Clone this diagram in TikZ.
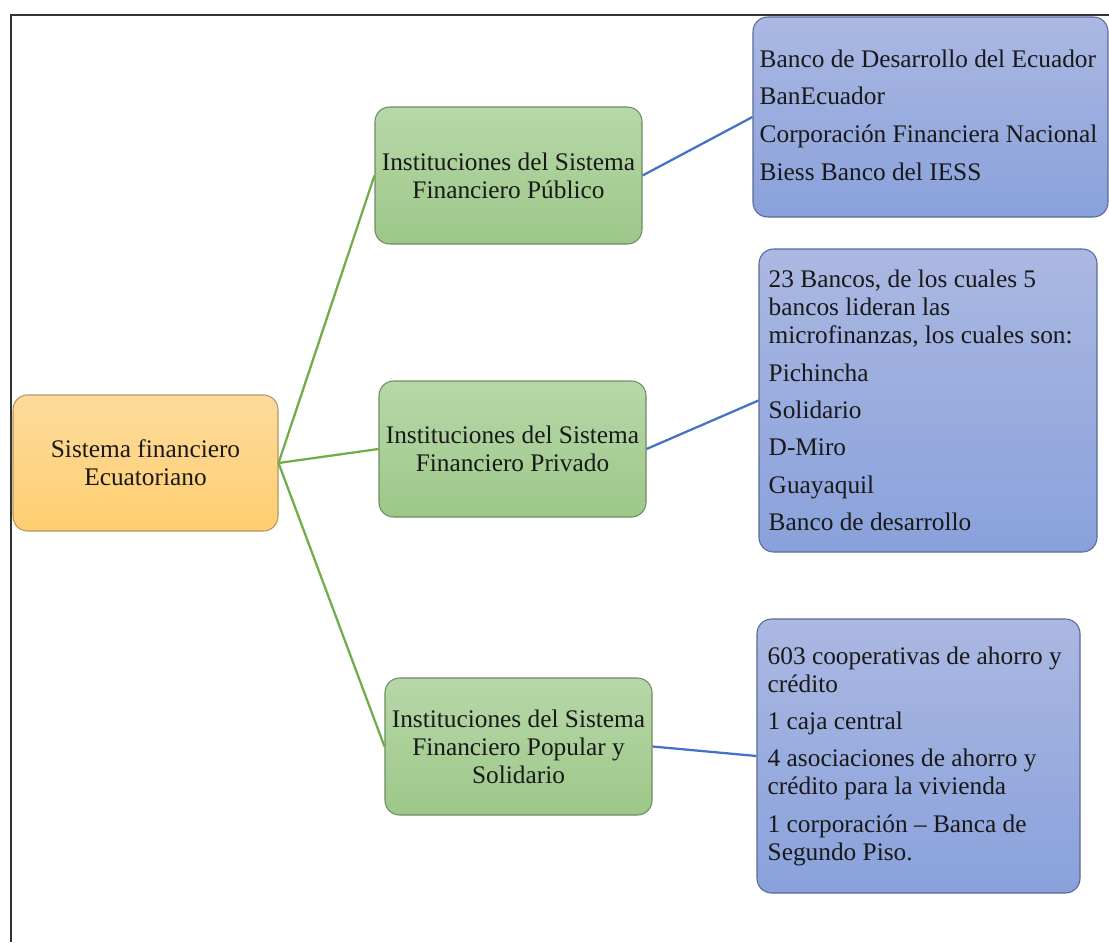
\documentclass[tikz,border=0pt]{standalone}
\usepackage{fontspec}
\setmainfont{Liberation Serif}
\definecolor{gtop}{RGB}{183,215,168}
\definecolor{gbot}{RGB}{157,200,137}
\definecolor{gbrd}{RGB}{110,140,96}
\definecolor{otop}{RGB}{254,219,156}
\definecolor{obot}{RGB}{255,206,112}
\definecolor{obrd}{RGB}{180,150,100}
\definecolor{btop}{RGB}{171,184,226}
\definecolor{bbot}{RGB}{137,161,219}
\definecolor{bbrd}{RGB}{90,105,150}
\definecolor{gline}{RGB}{112,173,71}
\definecolor{bline}{RGB}{68,114,196}
\definecolor{txt}{RGB}{25,25,25}
\tikzset{
  box/.style={rectangle, rounded corners=11pt, line width=0.8pt},
  greenbox/.style={box, draw=gbrd, top color=gtop, bottom color=gbot, align=center, text=txt,
     font=\fontsize{19}{21}\selectfont},
  orangebox/.style={box, draw=obrd, top color=otop, bottom color=obot, align=center, text=txt,
     font=\fontsize{19}{21}\selectfont},
  bluebox/.style={box, draw=bbrd, top color=btop, bottom color=bbot},
  listtext/.style={anchor=west, align=left, inner sep=0pt, text=txt,
     font=\fontsize{19}{21}\selectfont},
  gconn/.style={draw=gline, line width=1.7pt},
  bconn/.style={draw=bline, line width=1.7pt},
  frame/.style={draw=black!80, line width=1.5pt}
}
\begin{document}
\begin{tikzpicture}[x=0.75pt,y=-0.75pt]
\useasboundingbox (0,0) rectangle (1109,942);
\coordinate (fb) at (11,942);
\coordinate (ft) at (11,15);
\coordinate (fr) at (1109,15);
\draw[frame] (fb) -- (ft) -- (fr);

\node[orangebox, minimum width=198.75pt, minimum height=102pt] (root) at (145.5,463)
  {Sistema financiero\\Ecuatoriano};
\node[greenbox, minimum width=200.25pt, minimum height=102.75pt] (pub) at (508.5,175.5)
  {Instituciones del Sistema\\Financiero Público};
\node[greenbox, minimum width=200.25pt, minimum height=102pt] (priv) at (512.5,449)
  {Instituciones del Sistema\\Financiero Privado};
\node[greenbox, minimum width=200.25pt, minimum height=102.75pt] (pop) at (518.5,746.5)
  {Instituciones del Sistema\\Financiero Popular y\\Solidario};

\node[bluebox, minimum width=266.25pt, minimum height=150pt] (b1) at (930.5,117) {};
\node[bluebox, minimum width=253.5pt, minimum height=227.25pt] (b2) at (928,400.5) {};
\node[bluebox, minimum width=242.25pt, minimum height=205.5pt] (b3) at (918.5,756) {};

\node[listtext] (t1) at ([xshift=5.25pt,yshift=1.5pt]b1.west)
  {Banco de Desarrollo del Ecuador\\[7.3pt]BanEcuador\\[7.3pt]Corporación Financiera Nacional\\[7.3pt]Biess Banco del IESS};
\node[listtext] (t2) at ([xshift=7.5pt]b2.west)
  {23 Bancos, de los cuales 5\\bancos lideran las\\microfinanzas, los cuales son:\\[7pt]Pichincha\\[7pt]Solidario\\[7pt]D-Miro\\[7pt]Guayaquil\\[7pt]Banco de desarrollo};
\node[listtext] (t3) at ([xshift=8.25pt]b3.west)
  {603 cooperativas de ahorro y\\crédito\\[7pt]1 caja central\\[7pt]4 asociaciones de ahorro y\\crédito para la vivienda\\[7pt]1 corporación – Banca de\\Segundo Piso.};

\draw[gconn] (root.east) -- (pub.west);
\draw[gconn] (root.east) -- (priv.west);
\draw[gconn] (root.east) -- (pop.west);
\draw[bconn] (pub.east) -- (b1.west);
\draw[bconn] (priv.east) -- (b2.west);
\draw[bconn] (pop.east) -- (b3.west);
\end{tikzpicture}
\end{document}
